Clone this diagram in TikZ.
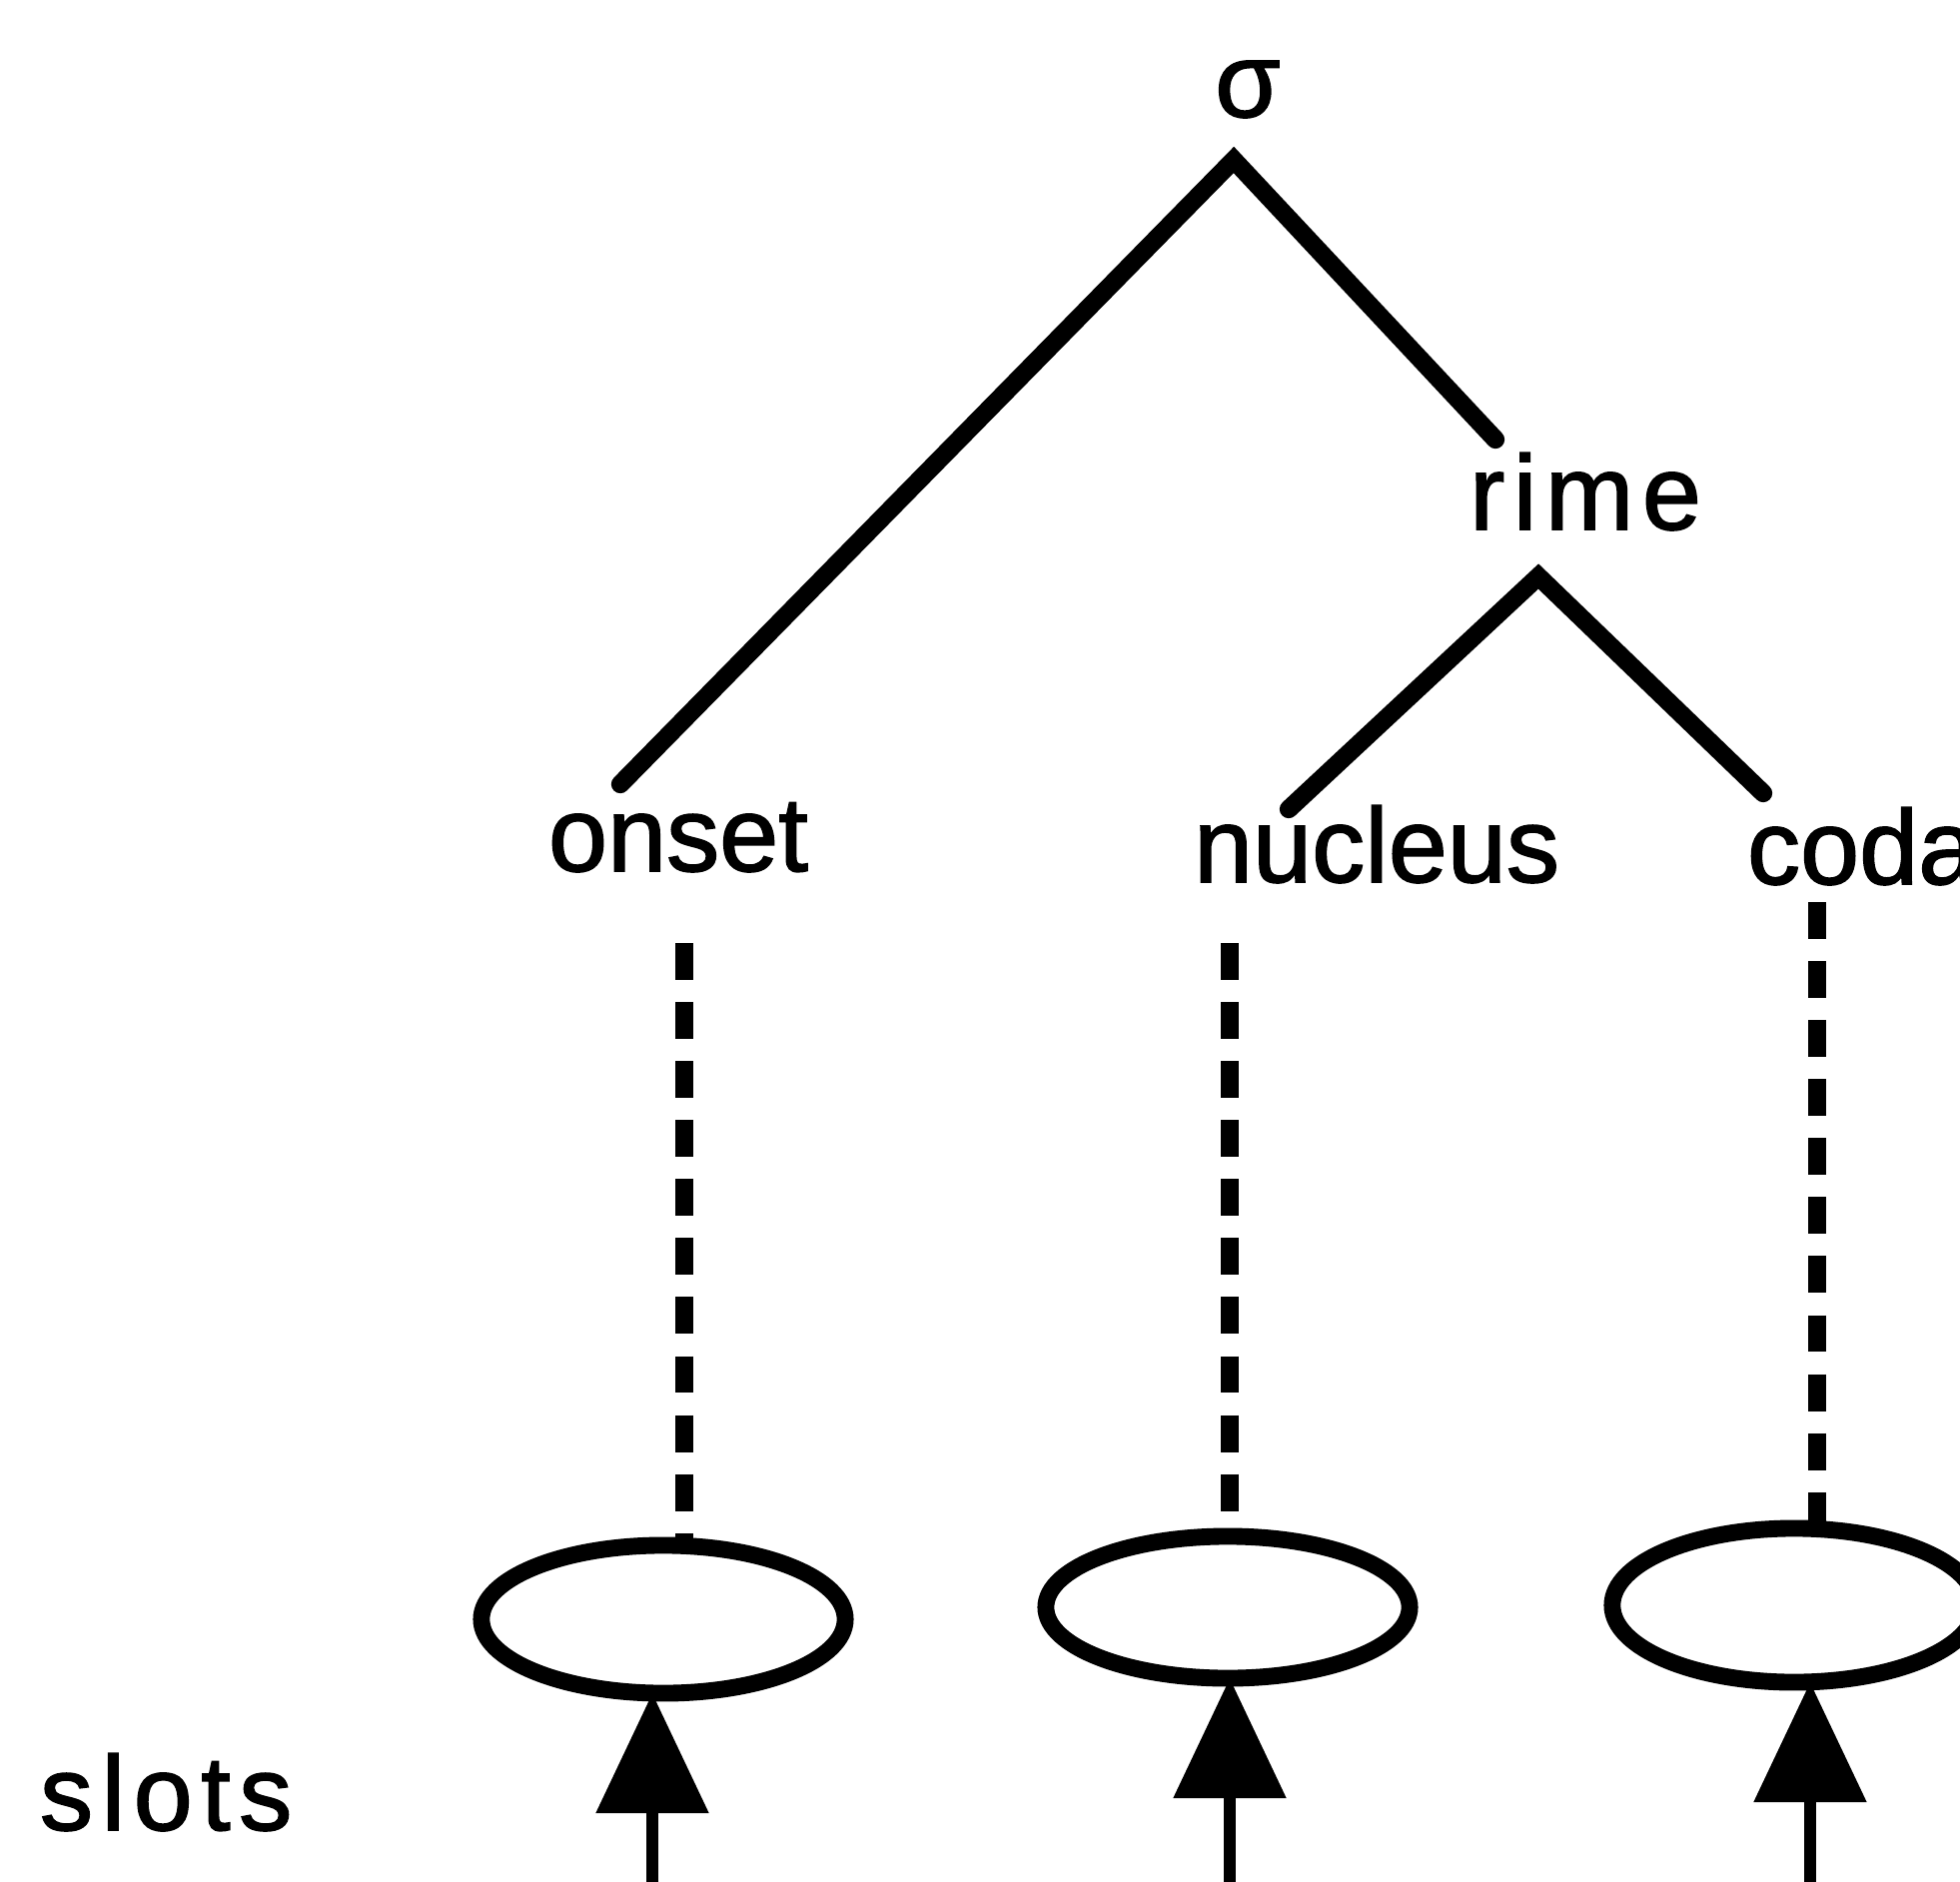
\documentclass[tikz,border=0pt]{standalone}
\usepackage{fontspec}
\setmainfont{Liberation Sans}
\usetikzlibrary{shapes.geometric,arrows.meta}
\begin{document}
\begin{tikzpicture}[x=0.01cm,y=-0.01cm,
  lbl/.style={inner sep=0pt,outer sep=0pt,anchor=base west,
    font=\fontsize{30.2pt}{36pt}\selectfont\addfontfeature{FakeBold=1.5}},
  branch/.style={line width=5.2pt,line cap=round},
  slot/.style={ellipse,draw,line width=4.8pt,minimum width=3.64cm,inner sep=0pt,outer sep=0pt},
  link/.style={line width=5pt,dash pattern=on 10.5pt off 6.3pt},
  feed/.style={line width=3.6pt,-{Triangle[length=1.2cm,width=1.1cm]}}
]
\useasboundingbox (0,0) rectangle (1962,1884);
\clip (0,0) rectangle (1962,1884);

% labels of the syllable tree
\node[lbl,anchor=base] (sigma) at (1249,117) {σ};
\node[lbl] (rime) at (1471,530) {\addfontfeature{LetterSpace=8}rime};
\node[lbl] (onset) at (549,872) {onset};
\node[lbl] (nucleus) at (1195,883) {nucleus};
\node[lbl] (coda) at (1749,885) {coda};
\node[lbl] (slots) at (40,1832) {\addfontfeature{LetterSpace=8}slots};

% branch end points
\coordinate (sigmaFoot) at (1235,160);
\coordinate (onsetHead) at (621,785);
\coordinate (rimeHead) at (1497,440);
\coordinate (rimeFoot) at (1540,577);
\coordinate (nucleusHead) at (1290,810);
\coordinate (codaHead) at (1765,794);

\draw[branch] (onsetHead) -- (sigmaFoot) -- (rimeHead);
\draw[branch] (nucleusHead) -- (rimeFoot) -- (codaHead);

% timing slots
\node[slot,minimum height=1.48cm] (onsetSlot) at (664,1621) {};
\node[slot,minimum height=1.42cm] (nucleusSlot) at (1229,1609) {};
\node[slot,minimum height=1.54cm] (codaSlot) at (1796,1607) {};

% association lines
\coordinate (onsetTop) at (685,944);
\coordinate (nucleusTop) at (1231,944);
\coordinate (codaTop) at (1819,903);
\draw[link] (onsetTop) -- (onsetTop |- onsetSlot.north);
\draw[link] (nucleusTop) -- (nucleusTop |- nucleusSlot.north);
\draw[link] (codaTop) -- (codaTop |- codaSlot.north);

% inputs to the slots
\coordinate (onsetIn) at (653,1900);
\coordinate (nucleusIn) at (1231,1900);
\coordinate (codaIn) at (1812,1900);
\draw[feed] (onsetIn) -- (onsetIn |- onsetSlot.south);
\draw[feed] (nucleusIn) -- (nucleusIn |- nucleusSlot.south);
\draw[feed] (codaIn) -- (codaIn |- codaSlot.south);
\end{tikzpicture}
\end{document}
